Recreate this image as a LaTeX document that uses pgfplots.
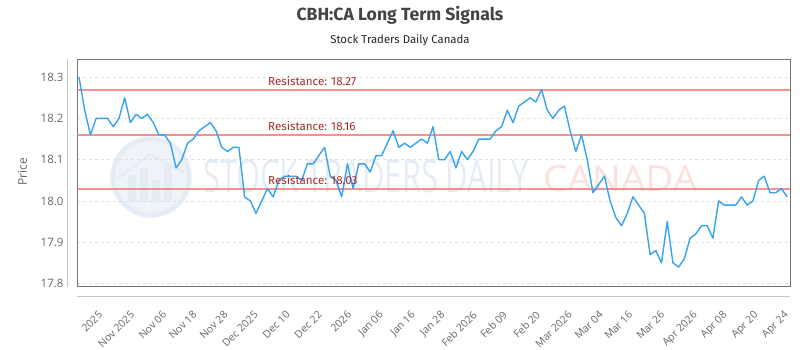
\documentclass[border=0pt]{standalone}
\usepackage{fontspec}
\setmainfont{Open Sans}
\newfontfamily\fira{Fira Sans}
\usepackage{graphicx}
\usepackage{pgfplots}
\pgfplotsset{compat=1.18}
\definecolor{linecol}{RGB}{54,162,240}
\definecolor{rescol}{RGB}{240,128,128}
\definecolor{restext}{RGB}{170,40,40}
\definecolor{tickcol}{RGB}{102,102,102}
\definecolor{titlecol}{RGB}{68,68,68}
\definecolor{wmblue}{RGB}{230,236,245}
\definecolor{wmpink}{RGB}{253,224,224}
\pgfplotstableread{
x y
0 18.30
1 18.22
2 18.16
3 18.20
4 18.20
5 18.20
6 18.18
7 18.20
8 18.25
9 18.19
10 18.21
11 18.20
12 18.21
13 18.19
14 18.16
15 18.16
16 18.14
17 18.08
18 18.10
19 18.14
20 18.15
21 18.17
22 18.18
23 18.19
24 18.17
25 18.13
26 18.12
27 18.13
28 18.13
29 18.01
30 18.00
31 17.97
32 18.00
33 18.03
34 18.01
35 18.05
36 18.06
37 18.06
38 18.06
39 18.05
40 18.09
41 18.09
42 18.11
43 18.13
44 18.06
45 18.05
46 18.01
47 18.09
48 18.03
49 18.09
50 18.09
51 18.07
52 18.11
53 18.11
54 18.14
55 18.17
56 18.13
57 18.14
58 18.13
59 18.14
60 18.15
61 18.14
62 18.18
63 18.10
64 18.10
65 18.12
66 18.08
67 18.12
68 18.10
69 18.12
70 18.15
71 18.15
72 18.15
73 18.17
74 18.18
75 18.22
76 18.19
77 18.23
78 18.24
79 18.25
80 18.24
81 18.27
82 18.22
83 18.20
84 18.22
85 18.23
86 18.17
87 18.12
88 18.16
89 18.10
90 18.02
91 18.04
92 18.06
93 18.00
94 17.96
95 17.94
96 17.97
97 18.01
98 17.99
99 17.97
100 17.87
101 17.88
102 17.85
103 17.95
104 17.85
105 17.84
106 17.86
107 17.91
108 17.92
109 17.94
110 17.94
111 17.91
112 18.00
113 17.99
114 17.99
115 17.99
116 18.01
117 17.99
118 18.00
119 18.05
120 18.06
121 18.02
122 18.02
123 18.03
124 18.01
}\pricedata
\begin{document}
\begin{tikzpicture}
\useasboundingbox (0pt,0pt) rectangle (800pt,350pt);
% watermark
\fill[wmblue!60] (151pt,173pt) circle (41pt);
\draw[wmblue,line width=4pt] (151pt,173pt) circle (38pt);
\fill[wmblue] (128pt,148pt) rectangle (136pt,175pt);
\fill[wmblue] (140pt,148pt) rectangle (148pt,182pt);
\fill[wmblue] (152pt,148pt) rectangle (160pt,170pt);
\fill[wmblue] (164pt,148pt) rectangle (172pt,188pt);
\draw[wmblue,line width=3pt] (118pt,172pt) -- (150pt,195pt) -- (184pt,178pt);
\node[anchor=south west,inner sep=0pt,text=wmblue] at (203pt,157pt) {\resizebox{325pt}{33pt}{STOCK TRADERS DAILY}};
\node[anchor=south west,inner sep=0pt,text=wmpink] at (543pt,158pt) {\resizebox{154pt}{26pt}{CANADA}};
% titles
\node[text=titlecol] at (400pt,335pt) {\fira\bfseries\fontsize{17.6}{20}\selectfont CBH:CA Long Term Signals};
\node[text=black!85] at (400pt,310pt) {\fira\fontsize{11.4}{13}\selectfont Stock Traders Daily Canada};
\node[rotate=90,text=tickcol] at (22.5pt,178pt) {\fontsize{12}{14}\selectfont Price};
% outer axis lines
\draw[black!22,line width=0.8pt] (67pt,291pt) -- (67pt,63pt);
\draw[black!22,line width=0.8pt] (77pt,54pt) -- (790pt,54pt);
\begin{axis}[
  at={(77pt,64pt)}, anchor=south west,
  scale only axis, width=713pt, height=227pt,
  xmin=-0.35, xmax=124.5, ymin=17.794, ymax=18.344,
  axis line style={draw=black!55,line width=0.8pt},
  ytick={17.8,17.9,18.0,18.1,18.2,18.3},
  yticklabel style={font=\fontsize{11.5}{13}\selectfont, text=tickcol, /pgf/number format/fixed, /pgf/number format/fixed zerofill, /pgf/number format/precision=1, xshift=-10pt},
  /pgf/number format/assume math mode=true,
  ymajorgrids, grid style={black!12, dashed, line width=0.6pt},
  major tick length=0pt,
  xtick={3.3,8.9,14.5,19.8,25.2,30.5,36.1,41.7,46.9,52.4,58,63.2,68.8,74.1,79.9,85.5,90.9,96.1,101.7,107.4,112.6,118,123.3},
  xticklabels={2025,Nov 2025,Nov 06,Nov 18,Nov 28,Dec 2025,Dec 10,Dec 22,2026,Jan 06,Jan 16,Jan 28,Feb 2026,Feb 09,Feb 20,Mar 2026,Mar 04,Mar 16,Mar 26,Apr 2026,Apr 08,Apr 20,Apr 24},
  xticklabel style={font=\fontsize{10.5}{12}\selectfont, text=tickcol, rotate=45, anchor=north east, inner sep=0pt, yshift=-17pt, xshift=-17pt},
  clip=false,
]
\addplot[rescol, line width=2pt, opacity=0.85] coordinates {(-0.35,18.27) (124.5,18.27)};
\addplot[rescol, line width=2pt, opacity=0.85] coordinates {(-0.35,18.16) (124.5,18.16)};
\addplot[rescol, line width=2pt, opacity=0.85] coordinates {(-0.35,18.03) (124.5,18.03)};
\addplot[linecol, line width=1.4pt, line join=round] table[x=x,y=y] {\pricedata};
\node[anchor=south west, text=restext, inner sep=0pt, yshift=4pt] at (axis cs:33.1,18.27) {\fira\fontsize{11.6}{13}\selectfont Resistance: 18.27};
\node[anchor=south west, text=restext, inner sep=0pt, yshift=4pt] at (axis cs:33.1,18.16) {\fira\fontsize{11.6}{13}\selectfont Resistance: 18.16};
\node[anchor=south west, text=restext, inner sep=0pt, yshift=4pt] at (axis cs:33.1,18.03) {\fira\fontsize{11.6}{13}\selectfont Resistance: 18.03};
\end{axis}
\end{tikzpicture}
\end{document}
